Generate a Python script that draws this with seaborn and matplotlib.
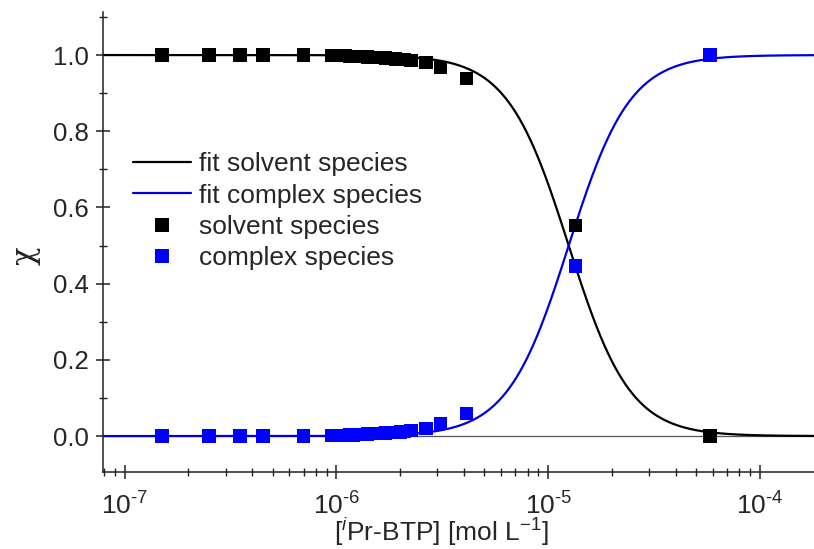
import numpy as np
import pandas as pd
import matplotlib
matplotlib.use("Agg")
import matplotlib.pyplot as plt
import seaborn as sns
from matplotlib.ticker import LogLocator, MultipleLocator, FixedLocator, FormatStrFormatter, FuncFormatter
from matplotlib.lines import Line2D

# Ligand concentration [mol/L] and measured mole fractions
conc = [1.5e-7, 2.5e-7, 3.5e-7, 4.5e-7, 7.0e-7,
        0.95e-6, 1.0e-6, 1.05e-6, 1.1e-6, 1.15e-6, 1.2e-6, 1.3e-6, 1.4e-6,
        1.5e-6, 1.6e-6, 1.7e-6, 1.8e-6, 1.9e-6, 2.0e-6, 2.1e-6, 2.25e-6,
        2.65e-6, 3.1e-6, 4.1e-6, 1.35e-5, 5.8e-5]
solvent = [1.0, 1.0, 1.0, 1.0, 1.0,
           0.999, 0.999, 0.998, 0.998, 0.997, 0.997, 0.996, 0.995,
           0.994, 0.993, 0.992, 0.991, 0.990, 0.989, 0.988, 0.986,
           0.980, 0.967, 0.938, 0.552, 0.0]
complex_ = [0.0, 0.0, 0.0, 0.0, 0.0,
            0.001, 0.001, 0.002, 0.002, 0.003, 0.003, 0.004, 0.005,
            0.006, 0.007, 0.008, 0.009, 0.010, 0.011, 0.012, 0.014,
            0.020, 0.033, 0.060, 0.446, 1.0]

# Hill-type fit parameters
x50 = 1.25e-5
hill_n = 3.0

x_ticks = [1e-7, 1e-6, 1e-5, 1e-4]
legend_labels = ['fit solvent species', 'fit complex species', 'solvent species', 'complex species']

BLUE_LINE = '#0000dd'
BLUE_MARK = '#0000ff'

sns.set_theme(style="ticks")
plt.rcParams['font.family'] = ['Liberation Sans', 'DejaVu Sans']
plt.rcParams['mathtext.fontset'] = 'custom'
plt.rcParams['mathtext.rm'] = 'Liberation Sans'
plt.rcParams['mathtext.it'] = 'Liberation Sans:italic'
plt.rcParams['mathtext.default'] = 'regular'

fig = plt.figure(figsize=(8.14, 5.49), dpi=100)
ax = fig.add_axes([103 / 814, (549 - 471.5) / 549, (814 - 103) / 814, (471.5 - 12) / 549])

xfit = np.logspace(np.log10(7.9e-8), np.log10(1.8e-4), 600)
fit_solvent = 1.0 / (1.0 + (xfit / x50) ** hill_n)
fit_complex = 1.0 - fit_solvent

ax.axhline(0, color='#555555', lw=0.9, zorder=1)

fits = pd.DataFrame({'x': np.concatenate([xfit, xfit]),
                     'y': np.concatenate([fit_solvent, fit_complex]),
                     'series': [legend_labels[0]] * len(xfit) + [legend_labels[1]] * len(xfit)})
pts = pd.DataFrame({'x': conc * 2,
                    'y': solvent + complex_,
                    'series': [legend_labels[2]] * len(conc) + [legend_labels[3]] * len(conc)})

sns.lineplot(data=fits, x='x', y='y', hue='series',
             palette={legend_labels[0]: 'black', legend_labels[1]: BLUE_LINE},
             lw=1.6, ax=ax, zorder=2, legend=False)
sns.scatterplot(data=pts, x='x', y='y', hue='series',
                palette={legend_labels[2]: 'black', legend_labels[3]: BLUE_MARK},
                marker='s', s=92, linewidth=0, ax=ax, zorder=3, legend=False)

ax.set_xscale('log')
ax.set_xlim(7.9e-8, 1.8e-4)
ax.set_ylim(-0.093, 1.113)


def decade_label(value, pos):
    exp = int(round(np.log10(value)))
    sign = '\u2010' if exp < 0 else ''
    return '10$^{%s%d}$' % (sign, abs(exp))


ax.xaxis.set_major_locator(FixedLocator(x_ticks))
ax.xaxis.set_major_formatter(FuncFormatter(decade_label))
ax.xaxis.set_minor_locator(LogLocator(base=10, subs=np.arange(2, 10), numticks=20))
ax.yaxis.set_major_locator(MultipleLocator(0.2))
ax.yaxis.set_minor_locator(MultipleLocator(0.1))
ax.yaxis.set_major_formatter(FormatStrFormatter('%.1f'))
ax.tick_params(which='major', direction='inout', length=10, width=1.1, color='#222222')
ax.tick_params(which='minor', direction='inout', length=6, width=1.0, color='#222222')
ax.tick_params(axis='y', which='major', pad=5, labelsize=18.5)
ax.tick_params(axis='x', which='major', pad=10, labelsize=19)

for side in ['top', 'right']:
    ax.spines[side].set_visible(False)
for side in ['left', 'bottom']:
    ax.spines[side].set_linewidth(1.1)
    ax.spines[side].set_color('#222222')

ax.set_xlabel(r'[$^{\mathit{i}}$Pr-BTP] [mol L$^{-1}$]', fontsize=19)
ax.xaxis.set_label_coords((441 - 103) / 711, (471.5 - 541) / 459.5)
ax.xaxis.label.set_verticalalignment('baseline')

ax.set_ylabel('χ', fontsize=22, family=['DejaVu Serif'])
ax.yaxis.set_label_coords((25 - 103) / 711, (471.5 - 256) / 459.5)
ax.yaxis.label.set_verticalalignment('center')

handles = [Line2D([], [], color='black', lw=1.6),
           Line2D([], [], color=BLUE_LINE, lw=1.6),
           Line2D([], [], color='black', marker='s', ls='none', ms=9.5, mew=0),
           Line2D([], [], color=BLUE_MARK, marker='s', ls='none', ms=9.5, mew=0)]
ax.legend(handles, legend_labels, loc='upper left', bbox_to_anchor=(0.042, 0.695), frameon=False,
          fontsize=19, handlelength=2.2, handletextpad=0.3, labelspacing=0.28, borderpad=0,
          borderaxespad=0)

fig.savefig('out.png', dpi=100)
